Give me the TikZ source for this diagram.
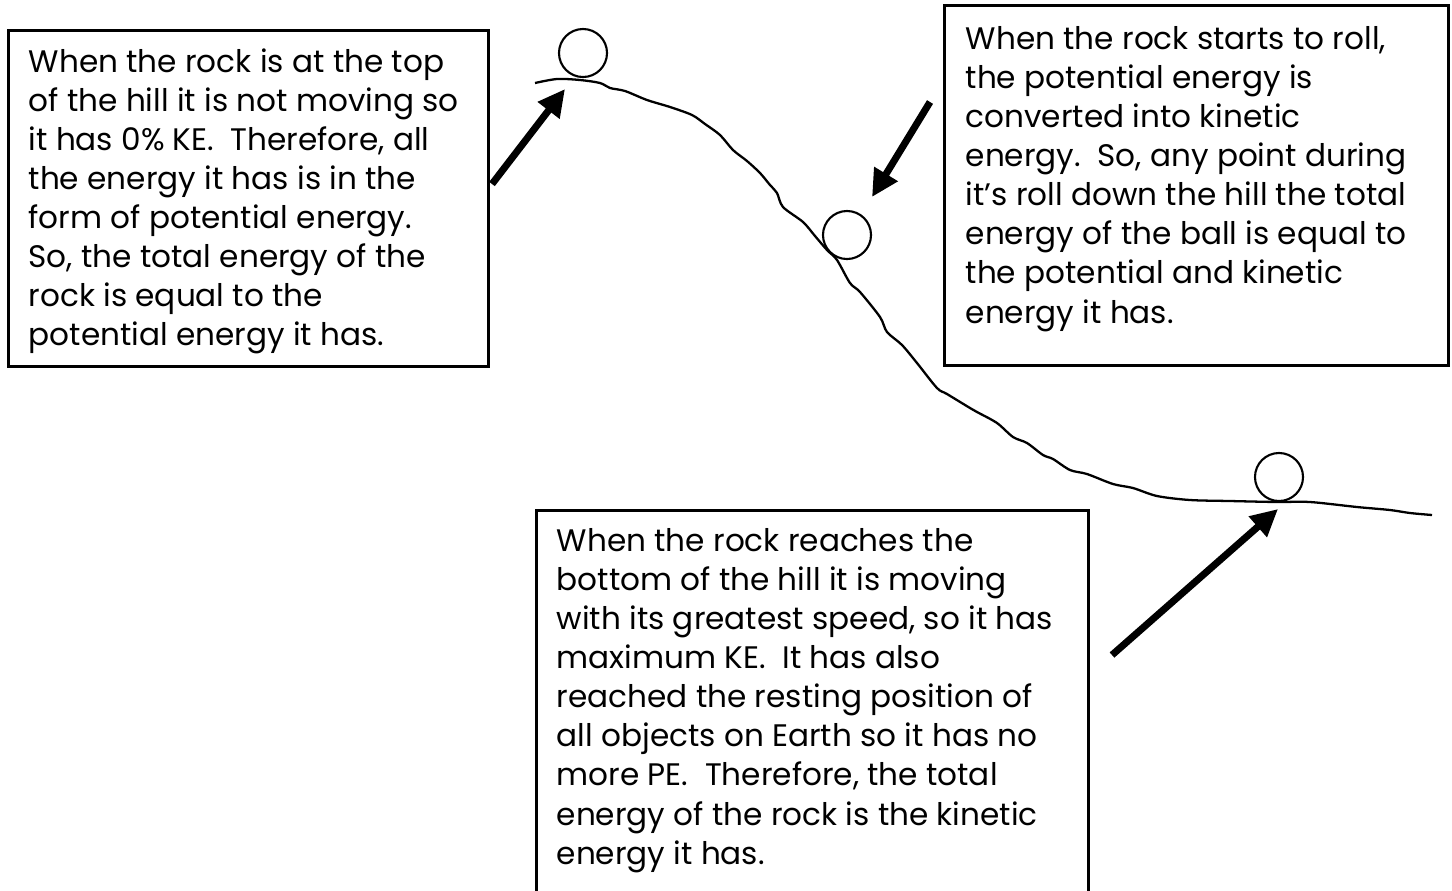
\documentclass[tikz,border=0pt]{standalone}
\usepackage{fontspec}
\setmainfont{Poppins}
\usetikzlibrary{arrows.meta}
\begin{document}
\begin{tikzpicture}[x=0.01cm,y=-0.01cm,
  box/.style={draw,line width=0.85pt,inner sep=0,anchor=north west},
  txt/.style={anchor=north west,inner sep=0,align=left,font=\fontsize{8.85}{11.1}\selectfont},
  rock/.style={draw,circle,line width=0.6pt,minimum size=0.48cm,inner sep=0},
  pointer/.style={line width=2pt,-{Triangle[length=0.27cm,width=0.26cm]}},
  hill/.style={line width=0.65pt}]
\useasboundingbox (0,0) rectangle (1452,890);
% boxes
\node[box,minimum width=4.8cm,minimum height=3.36cm] (b1) at (7,29) {};
\node[box,minimum width=5.04cm,minimum height=3.6cm] (b2) at (943,4) {};
\node[box,minimum width=5.52cm,minimum height=4.0cm] (b3) at (535,509) {};
% texts
\node[txt,xshift=0.21cm,yshift=-0.19cm] (t1) at (b1.north west) {When the rock is at the top\\of the hill it is not moving so\\it has 0\% KE.\ \ Therefore, all\\the energy it has is in the\\form of potential energy.\\So, the total energy of the\\rock is equal to the\\potential energy it has.};
\node[txt,xshift=0.22cm,yshift=-0.22cm] (t2) at (b2.north west) {When the rock starts to roll,\\the potential energy is\\converted into kinetic\\energy.\ \ So, any point during\\it’s roll down the hill the total\\energy of the ball is equal to\\the potential and kinetic\\energy it has.};
\node[txt,xshift=0.21cm,yshift=-0.19cm] (t3) at (b3.north west) {When the rock reaches the\\bottom of the hill it is moving\\with its greatest speed, so it has\\maximum KE.\ \ It has also\\reached the resting position of\\all objects on Earth so it has no\\more PE.\ \ Therefore, the total\\energy of the rock is the kinetic\\energy it has.};
% hill
\draw[hill] plot[smooth,tension=0.5] coordinates {(535,83) (557,79) (580,80) (600,83) (610,88) (625,91) (647,100) (670,107) (692,115) (705,124) (720,135) (733,150) (747,161) (760,173) (770,185) (777,193) (783,207) (803,222) (815,236) (827,250) (837,260) (850,283) (860,292) (880,317) (887,332) (902,345) (917,363) (937,388) (947,394) (970,408) (977,412) (997,423) (1013,437) (1027,443) (1043,455) (1053,459) (1070,470) (1087,474) (1113,484) (1133,488) (1157,496) (1190,500) (1230,501) (1277,502) (1310,502) (1357,507) (1390,510) (1410,513) (1432,515)};
% rocks
\node[rock] (r1) at (583,53) {};
\node[rock] (r2) at (847,235) {};
\node[rock] (r3) at (1279,477) {};
% arrows
\coordinate (a1s) at (492,184); \coordinate (a1e) at (565,89);
\coordinate (a2s) at (930,102); \coordinate (a2e) at (872,197);
\coordinate (a3s) at (1112,655); \coordinate (a3e) at (1278,509);
\draw[pointer] (a1s) -- (a1e);
\draw[pointer] (a2s) -- (a2e);
\draw[pointer] (a3s) -- (a3e);
\end{tikzpicture}
\end{document}
